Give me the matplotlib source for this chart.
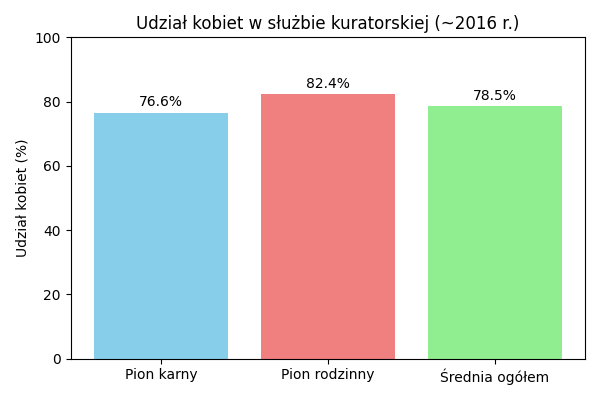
import matplotlib
matplotlib.use("Agg")
import matplotlib.pyplot as plt

categories = ['Pion karny', 'Pion rodzinny', 'Średnia ogółem']
values = [76.6, 82.4, 78.5]
colors = ['skyblue', 'lightcoral', 'lightgreen']

fig, ax = plt.subplots(figsize=(6, 4), dpi=100)
bars = ax.bar(categories, values, color=colors)
for bar, v in zip(bars, values):
    ax.text(bar.get_x() + bar.get_width() / 2, v + 1, f'{v}%',
            ha='center', va='bottom')
ax.set_ylim(0, 100)
ax.set_ylabel('Udział kobiet (%)')
ax.set_title('Udział kobiet w służbie kuratorskiej (~2016 r.)')
plt.tight_layout()
plt.savefig('out.png')
